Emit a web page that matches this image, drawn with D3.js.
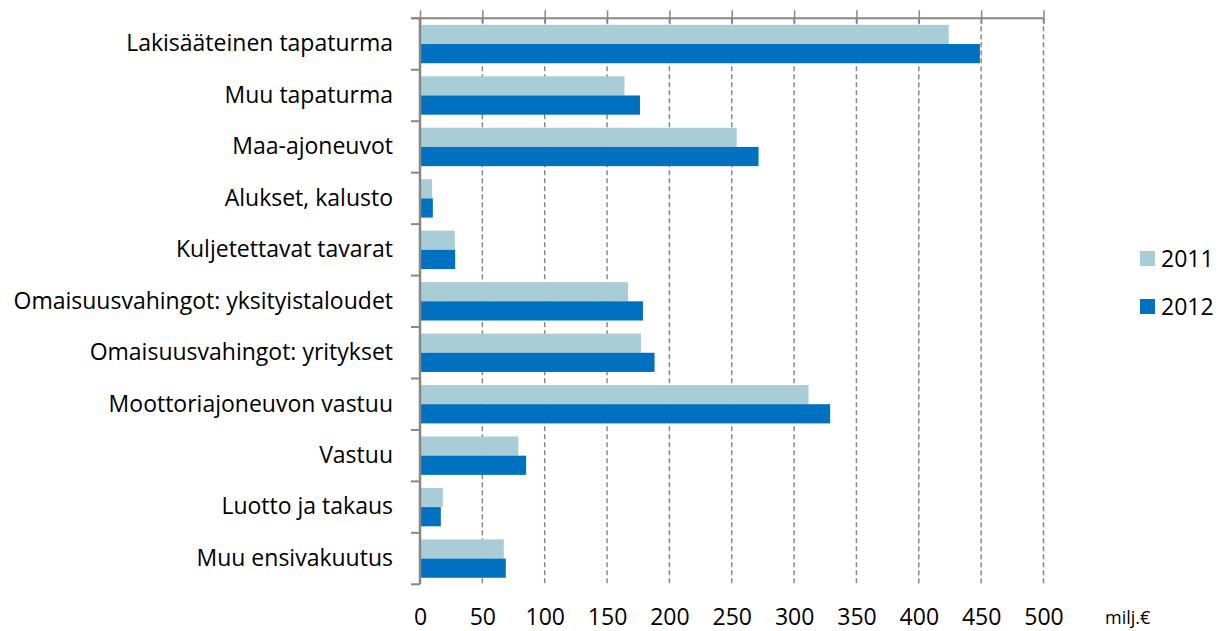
<!DOCTYPE html>
<html>
<head>
	<meta charset="utf-8">
	<title>Korvaukset vakuutuslajeittain</title>
	<style>
		body { margin: 0; background: #fff; }
		text { font-family: "Open Sans", Lato, sans-serif; fill: #000; }
	</style>
</head>
<body>
	<svg id="canvas" width="1224" height="631"></svg>
	<script src="https://cdn.jsdelivr.net/npm/d3@7"></script>
	<script>
		let categories = [
			"Lakisääteinen tapaturma",
			"Muu tapaturma",
			"Maa-ajoneuvot",
			"Alukset, kalusto",
			"Kuljetettavat tavarat",
			"Omaisuusvahingot: yksityistaloudet",
			"Omaisuusvahingot: yritykset",
			"Moottoriajoneuvon vastuu",
			"Vastuu",
			"Luotto ja takaus",
			"Muu ensivakuutus"
		];
		let series = ["2011", "2012"];
		let values2011 = [424, 164, 254, 9.7, 27.9, 166.8, 177.2, 311.6, 78.9, 18.3, 67.2];
		let values2012 = [449, 176.4, 271.5, 10.3, 28.2, 178.8, 188.1, 328.9, 85.1, 16.7, 68.8];
		let xTicks = [0, 50, 100, 150, 200, 250, 300, 350, 400, 450, 500];
		let unitLabel = "milj.€";

		let colors = { "2011": "#a9cdd6", "2012": "#0070c0" };
		let gridColor = "#878787";
		let fontStack = "'Open Sans', Lato, sans-serif";

		let svg = d3.select("#canvas");
		let plotLeft = 420, plotRight = 1043.5, plotTop = 18.3, plotBottom = 584.3;

		let x = d3.scaleLinear().domain([0, 500]).range([plotLeft, plotRight]);
		let y = d3.scaleBand().domain(categories).range([plotTop, plotBottom]).padding(0);
		let ySub = d3.scaleBand().domain(series).range([0, y.bandwidth()])
			.paddingInner(0).paddingOuter(0.34);

		let rows = categories.map(function(c, i) {
			return { cat: c, vals: [
				{ s: "2011", v: values2011[i] },
				{ s: "2012", v: values2012[i] }
			]};
		});

		// dashed grid
		svg.append("g")
			.selectAll("line")
			.data(xTicks.filter(function(d){ return d > 0; }))
			.enter().append("line")
				.attr("x1", function(d){ return x(d); })
				.attr("x2", function(d){ return x(d); })
				.attr("y1", plotTop)
				.attr("y2", plotBottom)
				.attr("stroke", gridColor)
				.attr("stroke-width", 1.5)
				.attr("stroke-dasharray", "5,3");

		// bars
		let groups = svg.append("g").selectAll("g")
			.data(rows)
			.enter().append("g")
				.attr("transform", function(d){ return "translate(0," + y(d.cat) + ")"; });

		groups.selectAll("rect")
			.data(function(d){ return d.vals; })
			.enter().append("rect")
				.attr("x", x(0))
				.attr("y", function(d){ return ySub(d.s); })
				.attr("width", function(d){ return x(d.v) - x(0); })
				.attr("height", ySub.bandwidth())
				.attr("fill", function(d){ return colors[d.s]; });

		// top value axis line with crossing ticks
		let topAxis = svg.append("g")
			.attr("transform", "translate(0," + plotTop + ")")
			.call(d3.axisTop(x).tickValues(xTicks).tickSize(8).tickFormat(""));
		topAxis.select(".domain").remove();
		topAxis.selectAll(".tick line")
			.attr("y1", -8).attr("y2", 6)
			.attr("stroke", gridColor).attr("stroke-width", 1.5);
		svg.append("line")
			.attr("x1", plotLeft - 9).attr("x2", plotRight)
			.attr("y1", plotTop).attr("y2", plotTop)
			.attr("stroke", gridColor).attr("stroke-width", 2);

		// bottom tick labels
		let bottomAxis = svg.append("g")
			.attr("transform", "translate(0," + plotBottom + ")")
			.call(d3.axisBottom(x).tickValues(xTicks).tickSize(0).tickPadding(24));
		bottomAxis.select(".domain").remove();
		bottomAxis.selectAll("text")
			.attr("font-size", 23)
			.style("font-family", fontStack)
			.attr("fill", "#000");

		svg.append("text")
			.attr("x", 1105)
			.attr("y", 624)
			.attr("font-size", 18)
			.text(unitLabel);

		// category axis
		let leftAxis = svg.append("g")
			.attr("transform", "translate(" + plotLeft + ",0)")
			.call(d3.axisLeft(y).tickSize(0).tickPadding(27));
		leftAxis.select(".domain").remove();
		leftAxis.selectAll("text")
			.attr("font-size", 23)
			.style("font-family", fontStack)
			.attr("fill", "#000");

		let bounds = categories.map(function(c){ return y(c); }).concat([plotBottom]);
		svg.append("g").selectAll("line")
			.data(bounds)
			.enter().append("line")
				.attr("x1", plotLeft - 9).attr("x2", plotLeft)
				.attr("y1", function(d){ return d; })
				.attr("y2", function(d){ return d; })
				.attr("stroke", gridColor).attr("stroke-width", 2);
		svg.append("line")
			.attr("x1", plotLeft).attr("x2", plotLeft)
			.attr("y1", plotTop).attr("y2", plotBottom)
			.attr("stroke", gridColor).attr("stroke-width", 2.5);

		// legend
		let legend = svg.append("g").selectAll("g")
			.data(series)
			.enter().append("g")
				.attr("transform", function(d, i){ return "translate(1140," + (251 + i * 48) + ")"; });
		legend.append("rect")
			.attr("width", 15).attr("height", 15)
			.attr("fill", function(d){ return colors[d]; });
		legend.append("text")
			.attr("x", 21).attr("y", 8)
			.attr("dy", "0.35em")
			.attr("font-size", 23)
			.text(function(d){ return d; });
	</script>
</body>
</html>
